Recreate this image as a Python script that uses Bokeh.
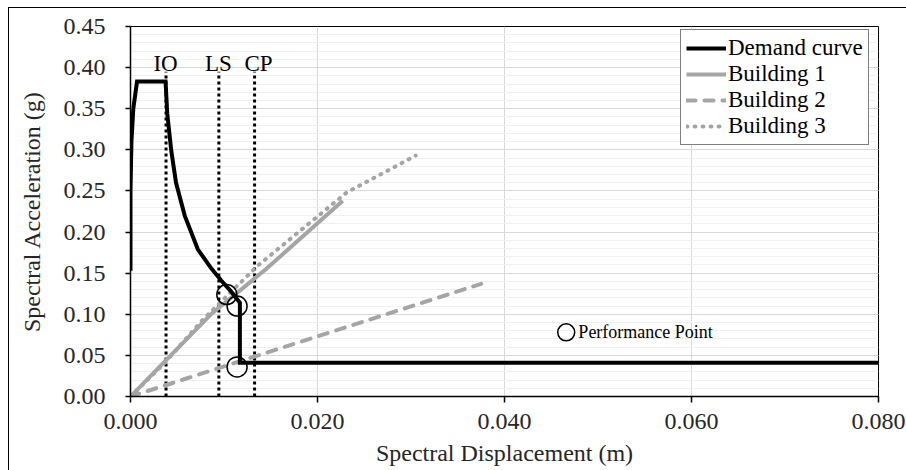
from bokeh.plotting import figure
from bokeh.models import Range1d, FixedTicker, NumeralTickFormatter, Legend, LegendItem
from bokeh.core.properties import value
from bokeh.embed import file_html
from bokeh.resources import INLINE

# ---- data ----
demand_sd = [0.0, 0.0, 0.0001, 0.0003, 0.0007, 0.00375, 0.00393, 0.00436, 0.00487, 0.0058,
             0.0072, 0.00856, 0.0097, 0.0107, 0.0117, 0.0117, 0.080]
demand_sa = [0.153, 0.25, 0.31, 0.35, 0.383, 0.383, 0.344, 0.299, 0.260, 0.220,
             0.179, 0.157, 0.141, 0.1285, 0.114, 0.041, 0.041]

b1_sd = [0.0, 0.0086, 0.0145, 0.0227]
b1_sa = [0.0, 0.100, 0.155, 0.238]

b2_sd = [0.0, 0.0186, 0.0375]
b2_sa = [0.0, 0.068, 0.137]

b3_sd = [0.0, 0.0036, 0.0077, 0.0136, 0.0231, 0.0305]
b3_sa = [0.0, 0.040, 0.093, 0.159, 0.248, 0.293]

perf_sd = [0.0103, 0.0114, 0.0114]
perf_sa = [0.124, 0.110, 0.036]

limit_names = ["IO", "LS", "CP"]
limit_sd = [0.00380, 0.00945, 0.01327]
limit_label_sd = [0.00375, 0.00940, 0.01370]
limit_top = 0.395
limit_label_sa = 0.4046

legend_marker_sd = [0.0466]
legend_marker_sa = [0.078]
legend_marker_text = ["Performance Point"]

x_ticks = [0.0, 0.02, 0.04, 0.06, 0.08]
y_ticks = [0.0, 0.05, 0.10, 0.15, 0.20, 0.25, 0.30, 0.35, 0.40, 0.45]
y_minor = [round(i * 0.01, 2) for i in range(46)]

FONT = "'Liberation Serif'"
GRAY = "#A5A5A5"

p = figure(frame_width=748, frame_height=370, output_backend="svg", toolbar_location=None,
           x_range=Range1d(0, 0.08), y_range=Range1d(0, 0.45),
           min_border_left=130, min_border_right=28, min_border_top=26, min_border_bottom=74,
           background_fill_color="white", border_fill_color="white", border_fill_alpha=0)
p.styles = {
    "background": "linear-gradient(#000, #000) 8px 7px / 1px 100% no-repeat, "
                  "linear-gradient(#000, #000) 8px 7px / 100% 1px no-repeat, #ffffff",
}
p.outline_line_color = "black"
p.outline_line_width = 1

# grids
p.xaxis.ticker = FixedTicker(ticks=x_ticks)
p.yaxis.ticker = FixedTicker(ticks=y_ticks, minor_ticks=y_minor)
p.xgrid.grid_line_color = "#D9D9D9"
p.ygrid.grid_line_color = "#D9D9D9"
p.ygrid.minor_grid_line_color = "#F0F0F0"

# axes
for ax in (p.xaxis, p.yaxis):
    ax.axis_line_color = "black"
    ax.axis_line_width = 1.5
    ax.major_tick_line_color = "black"
    ax.major_tick_line_width = 1.5
    ax.major_tick_in = 0
    ax.minor_tick_line_color = None
    ax.major_label_text_font = FONT
    ax.major_label_text_font_size = "24px"
    ax.major_label_text_color = "#262626"
    ax.axis_label_text_font = FONT
    ax.axis_label_text_font_size = "24px"
    ax.axis_label_text_font_style = "normal"
    ax.axis_label_text_color = "#262626"
p.xaxis.major_tick_out = 6
p.yaxis.major_tick_out = 5
p.xaxis.major_label_standoff = 11
p.yaxis.major_label_standoff = 20
p.xaxis.axis_label_standoff = 8
p.yaxis.axis_label_standoff = 16
p.xaxis.formatter = NumeralTickFormatter(format="0.000")
p.yaxis.formatter = NumeralTickFormatter(format="0.00")
p.xaxis.axis_label = "Spectral Displacement (m)"
p.yaxis.axis_label = "Spectral Acceleration (g)"

# limit state lines
p.segment(x0=limit_sd, y0=[0] * 3, x1=limit_sd, y1=[limit_top] * 3,
          line_color="black", line_width=3, line_dash="3 3", line_cap="butt")
p.text(x=limit_label_sd, y=[limit_label_sa] * 3, text=limit_names,
       text_font=value(FONT), text_font_size="23px", text_align="center",
       text_baseline="alphabetic", text_color="black")

# capacity curves
r_b1 = p.line(b1_sd, b1_sa, line_color=GRAY, line_width=4)
r_b2 = p.line(b2_sd, b2_sa, line_color=GRAY, line_width=4, line_dash="9 9", line_cap="round")
r_b3 = p.line(b3_sd, b3_sa, line_color=GRAY, line_width=4, line_dash="1 7", line_cap="round")

# demand curve
r_dem = p.line(demand_sd, demand_sa, line_color="black", line_width=4, line_join="miter")

# performance points
p.scatter(perf_sd, perf_sa, size=20, marker="circle", fill_color=None,
          line_color="black", line_width=1.5)
p.scatter(legend_marker_sd, legend_marker_sa, size=17, marker="circle", fill_color=None,
          line_color="black", line_width=1.5)
p.text(x=[legend_marker_sd[0] + 0.0013], y=legend_marker_sa, text=legend_marker_text,
       text_font=value(FONT), text_font_size="18px", text_align="left",
       text_baseline="middle", text_color="black")

legend = Legend(items=[
    LegendItem(label="Demand curve", renderers=[r_dem]),
    LegendItem(label="Building 1", renderers=[r_b1]),
    LegendItem(label="Building 2", renderers=[r_b2]),
    LegendItem(label="Building 3", renderers=[r_b3]),
], location=(550, 251))
legend.label_text_font = FONT
legend.label_text_font_size = "23px"
legend.label_text_color = "black"
legend.glyph_width = 40
legend.glyph_height = 26
legend.label_height = 26
legend.label_standoff = 2
legend.spacing = 0
legend.padding = 5
legend.margin = 0
legend.border_line_color = "black"
legend.border_line_width = 1
legend.background_fill_color = "white"
legend.background_fill_alpha = 1
p.add_layout(legend, "center")

open("out.html", "w").write(file_html(p, INLINE))
